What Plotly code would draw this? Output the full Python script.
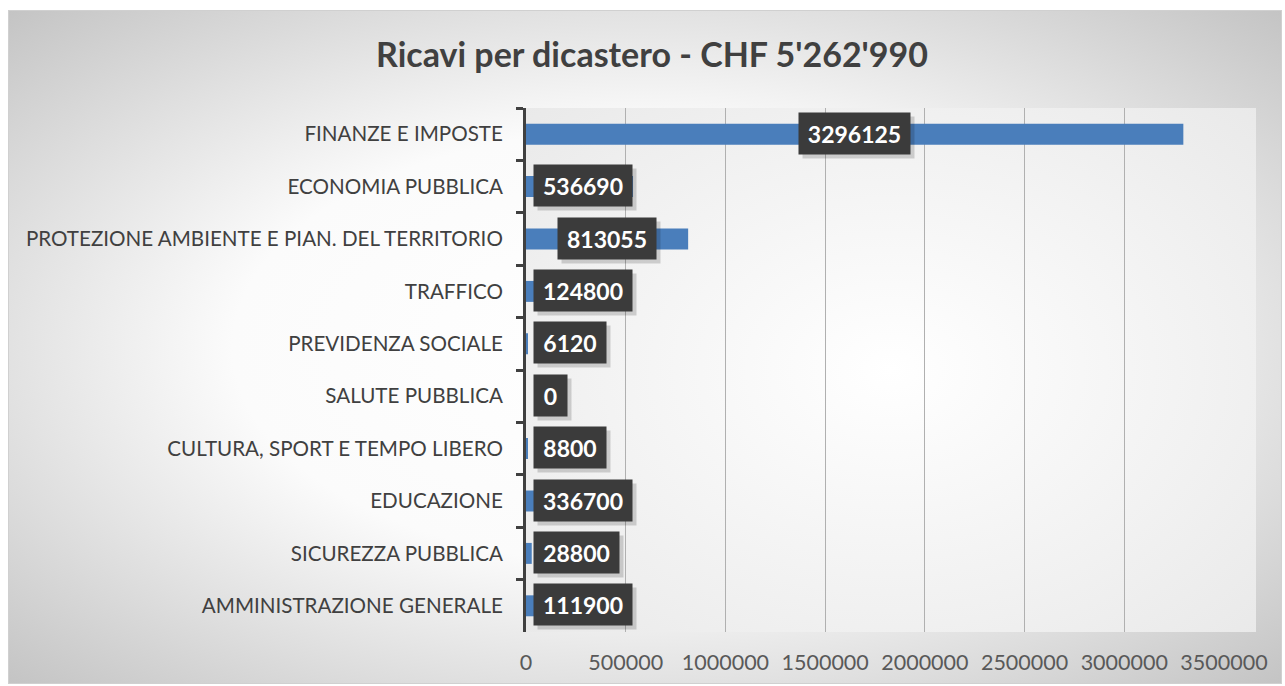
import plotly.graph_objects as go
import urllib.parse

# ---- data (top to bottom as displayed) ----
categories = [
    "FINANZE E IMPOSTE",
    "ECONOMIA PUBBLICA",
    "PROTEZIONE AMBIENTE E PIAN. DEL TERRITORIO",
    "TRAFFICO",
    "PREVIDENZA SOCIALE",
    "SALUTE PUBBLICA",
    "CULTURA, SPORT E TEMPO LIBERO",
    "EDUCAZIONE",
    "SICUREZZA PUBBLICA",
    "AMMINISTRAZIONE GENERALE",
]
values = [3296125, 536690, 813055, 124800, 6120, 0, 8800, 336700, 28800, 111900]
title_text = "Ricavi per dicastero - CHF 5'262'990"
x_ticks = [0, 500000, 1000000, 1500000, 2000000, 2500000, 3000000, 3500000]

# ---- layout geometry ----
W, H = 1285, 686
ML, MR, MT, MB = 526, 61, 108, 54
PW, PH = W - ML - MR, H - MT - MB
XMAX = 3500000
px_per_unit = PW / XMAX

BAR_COLOR = "#4a7ebb"
FONT = "Lato"

fig = go.Figure()
fig.add_trace(go.Bar(
    y=categories, x=values, orientation="h",
    marker=dict(color=BAR_COLOR, line=dict(width=0)),
    hoverinfo="skip",
))

# background gradient (chart area) via svg data uri
svg = (
    '<svg xmlns="http://www.w3.org/2000/svg" width="1274" height="674" viewBox="0 0 1274 674" preserveAspectRatio="none">'
    '<defs><radialGradient id="g" cx="50%" cy="50%" r="72%" fx="50%" fy="50%">'
    '<stop offset="0%" stop-color="#ffffff"/>'
    '<stop offset="45%" stop-color="#fbfbfb"/>'
    '<stop offset="100%" stop-color="#c2c2c2"/>'
    '</radialGradient>'
    '<radialGradient id="p" cx="50%" cy="50%" r="75%">'
    '<stop offset="0%" stop-color="#ffffff" stop-opacity="1"/>'
    '<stop offset="100%" stop-color="#e8e8e8" stop-opacity="1"/>'
    '</radialGradient></defs>'
    '<rect x="0.5" y="0.5" width="1273" height="673" fill="url(#g)" stroke="#d0d0d0" stroke-width="1"/>'
    '<rect x="' + str(ML - 8) + '" y="' + str(MT - 10) + '" width="' + str(PW + 32) + '" height="' + str(PH) + '" fill="url(#p)"/>'
    '</svg>'
)
src = "data:image/svg+xml;charset=utf-8," + urllib.parse.quote(svg)
fig.add_layout_image(dict(
    source=src, xref="paper", yref="paper",
    x=(8 - ML) / PW, y=(H - MB - 10) / PH,
    sizex=1274 / PW, sizey=674 / PH,
    xanchor="left", yanchor="top", sizing="stretch", layer="below",
))

# data labels: dark boxes centred in bar, clamped to the left edge
annotations = []
for cat, v in zip(categories, values):
    txt = str(v)
    w = 13 * len(txt) + 14
    box_w = w + 6
    centre_px = v / 2 * px_per_unit
    if centre_px - box_w / 2 < 7:
        x, xanchor, xshift = 0, "left", 7
    else:
        x, xanchor, xshift = v / 2, "center", 0
    common = dict(x=x, y=cat, xref="x", yref="y", xanchor=xanchor, yanchor="middle",
                  showarrow=False, width=w, height=35, borderpad=3, align="center",
                  font=dict(family=FONT, size=23, color="#ffffff", weight="bold"))
    shadow = dict(common)
    shadow.update(text="&nbsp;", bgcolor="rgba(0,0,0,0.16)", xshift=xshift + 4, yshift=-3)
    annotations.append(shadow)
    main = dict(common)
    main.update(text="<b>" + txt + "</b>", bgcolor="#3b3b3b", xshift=xshift, yshift=1)
    annotations.append(main)

fig.update_layout(
    width=W, height=H,
    margin=dict(l=ML, r=MR, t=MT, b=MB, autoexpand=False),
    paper_bgcolor="#ffffff", plot_bgcolor="rgba(0,0,0,0)",
    showlegend=False, bargap=0.6,
    title=dict(text="<b>" + title_text + "</b>", x=652 / W, xref="container", xanchor="center",
               y=1 - 55 / H, yanchor="middle",
               font=dict(family=FONT, size=34, color="#404040")),
    annotations=annotations,
    font=dict(family=FONT),
)

fig.update_xaxes(range=[0, XMAX], tickvals=x_ticks, ticktext=[str(t) for t in x_ticks],
                 showgrid=True, gridcolor="#b0b0b0", gridwidth=1, zeroline=False,
                 showline=False, ticks="", fixedrange=True,
                 tickfont=dict(family=FONT, size=21.5, color="#595959"), ticklabelstandoff=15)
fig.update_yaxes(categoryorder="array", categoryarray=categories, autorange="reversed",
                 type="category", tickson="boundaries", ticks="outside", ticklen=7,
                 tickwidth=3, tickcolor="#404040", showline=True, linewidth=3,
                 linecolor="#404040", showgrid=False, zeroline=False, fixedrange=True,
                 tickfont=dict(family=FONT, size=20.6, color="#404040"), ticklabelstandoff=16)

fig.write_html("out.html", post_script="document.body.style.margin='0';",
               config={"displayModeBar": False})
